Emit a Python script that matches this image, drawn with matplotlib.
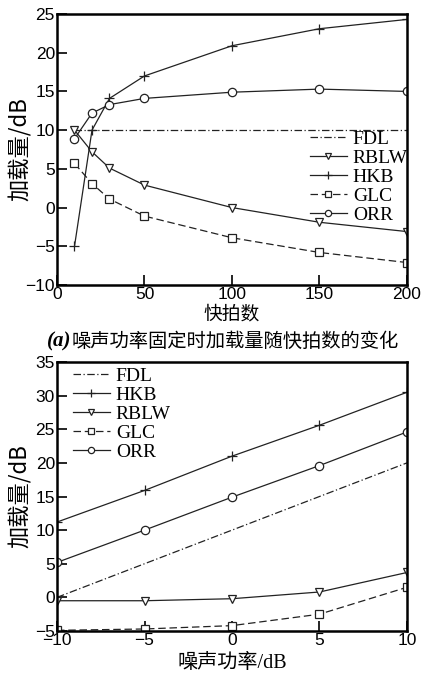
import matplotlib
matplotlib.use("Agg")
import matplotlib.pyplot as plt

plt.rcParams['font.family'] = ['Liberation Sans', 'Noto Sans CJK SC', 'DejaVu Sans']

# ---- data: top panel (snapshots) ----
snap = [10, 20, 30, 50, 100, 150, 200]
fdl_a = [10, 10, 10, 10, 10, 10, 10]
rblw_a = [10.0, 7.2, 5.1, 2.9, 0.0, -1.9, -3.1]
hkb_a = [-5.0, 10.0, 14.1, 17.0, 20.9, 23.1, 24.3]
glc_a = [5.7, 3.1, 1.1, -1.1, -3.9, -5.8, -7.1]
orr_a = [8.9, 12.2, 13.3, 14.1, 14.9, 15.3, 15.0]

# ---- data: bottom panel (noise power) ----
noise = [-10, -5, 0, 5, 10]
fdl_b = [0, 5, 10, 15, 20]
hkb_b = [11.2, 15.9, 21.0, 25.6, 30.5]
rblw_b = [-0.5, -0.5, -0.2, 0.8, 3.7]
glc_b = [-4.9, -4.7, -4.2, -2.5, 1.5]
orr_b = [5.2, 10.0, 14.9, 19.6, 24.6]

xticks_a = [0, 50, 100, 150, 200]
yticks_a = [-10, -5, 0, 5, 10, 15, 20, 25]
xticks_b = [-10, -5, 0, 5, 10]
yticks_b = [-5, 0, 5, 10, 15, 20, 25, 30, 35]

fig = plt.figure(figsize=(4.26, 6.79), dpi=100)
W, H = 426, 679
def rect(l, t, r, b):
    return [l / W, 1 - b / H, (r - l) / W, (b - t) / H]

ax1 = fig.add_axes(rect(57, 14, 407, 285))
ax2 = fig.add_axes(rect(57, 362, 407, 631))

lc = '#222222'
mk = dict(markerfacecolor='white', markersize=6, markeredgewidth=0.9)
lw = 0.9
serif = {'family': ['Liberation Serif'], 'size': 14}
cjk = ['Noto Sans CJK SC']

def style(ax):
    for s in ax.spines.values():
        s.set_linewidth(1.8)
    ax.tick_params(direction='in', length=7, width=1.2, labelsize=12.5,
                   top=False, right=False, pad=1.5)

leg_kw = dict(frameon=False, prop=serif, handlelength=1.9, handletextpad=0.3,
              labelspacing=0.08, borderpad=0.0, borderaxespad=0.0, markerscale=0.75)

# top panel
ax1.plot(snap, fdl_a, color=lc, lw=lw, ls=(0, (6, 2, 1, 2)), label='FDL')
ax1.plot(snap, rblw_a, color=lc, lw=lw, marker='v', label='RBLW', **mk)
ax1.plot(snap, hkb_a, color=lc, lw=lw, marker='+', label='HKB', markersize=7, markeredgewidth=0.9)
ax1.plot(snap, glc_a, color=lc, lw=lw, ls=(0, (6, 3)), marker='s', label='GLC', **mk)
ax1.plot(snap, orr_a, color=lc, lw=lw, marker='o', label='ORR', **mk)
ax1.set_xlim(0, 200)
ax1.set_ylim(-10, 25)
ax1.set_xticks(xticks_a)
ax1.set_yticks(yticks_a)
style(ax1)
ax1.set_ylabel('加载量/dB', fontsize=16, family=cjk)
ax1.yaxis.set_label_coords((32 - 57) / 350, 0.5)
ax1.legend(loc='upper left', bbox_to_anchor=((310 - 57) / 350, (285 - 130) / 271), **leg_kw)

fig.text(232 / W, 1 - 314 / H, '快拍数', ha='center', va='center',
         fontsize=13.5, family=cjk)
fig.text(47 / W, 1 - 341 / H, '(a)', ha='left', va='center', fontsize=15,
         family=['Liberation Serif'], style='italic', weight='bold')
fig.text(72 / W, 1 - 341 / H, '噪声功率固定时加载量随快拍数的变化', ha='left',
         va='center', fontsize=13.9, family=cjk)

# bottom panel
ax2.plot(noise, fdl_b, color=lc, lw=lw, ls=(0, (6, 2, 1, 2)), label='FDL')
ax2.plot(noise, hkb_b, color=lc, lw=lw, marker='+', label='HKB', markersize=7, markeredgewidth=0.9)
ax2.plot(noise, rblw_b, color=lc, lw=lw, marker='v', label='RBLW', **mk)
ax2.plot(noise, glc_b, color=lc, lw=lw, ls=(0, (6, 3)), marker='s', label='GLC', **mk)
ax2.plot(noise, orr_b, color=lc, lw=lw, marker='o', label='ORR', **mk)
ax2.set_xlim(-10, 10)
ax2.set_ylim(-5, 35)
ax2.set_xticks(xticks_b)
ax2.set_yticks(yticks_b)
style(ax2)
ax2.set_ylabel('加载量/dB', fontsize=16, family=cjk)
ax2.yaxis.set_label_coords((32 - 57) / 350, 0.5)
ax2.set_xlabel('噪声功率/dB', fontsize=14.5, family=['Liberation Serif', 'Noto Sans CJK SC'], labelpad=4)
ax2.legend(loc='upper left', bbox_to_anchor=((73 - 57) / 350, (631 - 367) / 269), **leg_kw)

fig.savefig('out.png', dpi=100)
